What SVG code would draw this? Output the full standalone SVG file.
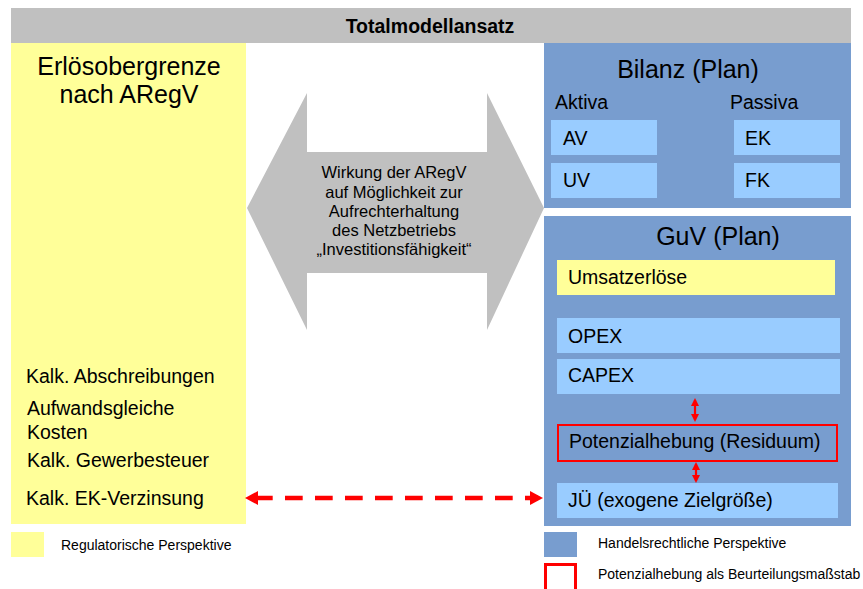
<svg xmlns="http://www.w3.org/2000/svg" width="863" height="589" viewBox="0 0 863 589">
<defs>
<style>
text{font-family:"Liberation Sans",Arial,sans-serif;fill:#000}
.big{font-size:25px}
.item{font-size:19.5px}
.arr{font-size:16.5px}
.leg{font-size:14px}
.yel{fill:#FFFF99}
.blue{fill:#789DCF}
.lb{fill:#99CCFF}
</style>
<marker id="ah" viewBox="0 0 13 14" refX="8" refY="7" markerWidth="13" markerHeight="14" markerUnits="userSpaceOnUse" orient="auto-start-reverse">
<path d="M0,0 L13,7 L0,14 z" fill="#FF0000"/>
</marker>
<marker id="sh" viewBox="0 0 8 8" refX="6" refY="4" markerWidth="8" markerHeight="8" markerUnits="userSpaceOnUse" orient="auto-start-reverse">
<path d="M0,0 L8,4 L0,8 z" fill="#FF0000"/>
</marker>
</defs>
<rect width="863" height="589" fill="#fff"/>
<g id="header">
<rect x="11" y="8" width="840" height="35" fill="#C0C0C0"/>
<text x="430" y="33" text-anchor="middle" font-size="19.5" font-weight="bold">Totalmodellansatz</text>
</g>
<g id="erloesobergrenze">
<rect class="yel" x="11" y="43" width="235" height="481"/>
<text class="big" x="129" y="75" text-anchor="middle">Erlösobergrenze</text>
<text class="big" x="129" y="103" text-anchor="middle">nach ARegV</text>
<text class="item" x="26" y="383">Kalk. Abschreibungen</text>
<text class="item" x="27" y="415">Aufwandsgleiche</text>
<text class="item" x="27" y="439">Kosten</text>
<text class="item" x="27" y="467">Kalk. Gewerbesteuer</text>
<text class="item" x="26" y="505">Kalk. EK-Verzinsung</text>
</g>
<g id="wirkung">
<polygon points="247,208 307,93 307,152 487,152 487,93 544,208 487,330 487,273 307,273 307,330" fill="#C0C0C0"/>
<text class="arr" text-anchor="middle" x="394" y="178">Wirkung der ARegV</text>
<text class="arr" text-anchor="middle" x="394" y="198">auf Möglichkeit zur</text>
<text class="arr" text-anchor="middle" x="394" y="217">Aufrechterhaltung</text>
<text class="arr" text-anchor="middle" x="394" y="236">des Netzbetriebs</text>
<text class="arr" text-anchor="middle" x="394" y="255">„Investitionsfähigkeit“</text>
</g>
<g id="bilanz">
<rect class="blue" x="544" y="43" width="307" height="165"/>
<text class="big" x="688" y="78" text-anchor="middle">Bilanz (Plan)</text>
<text class="item" x="555" y="109">Aktiva</text>
<text class="item" x="730" y="109">Passiva</text>
<rect class="lb" x="551" y="120" width="106" height="35"/>
<text class="item" x="563" y="145">AV</text>
<rect class="lb" x="551" y="163" width="106" height="35"/>
<text class="item" x="563" y="187">UV</text>
<rect class="lb" x="734" y="120" width="106" height="35"/>
<text class="item" x="745" y="145">EK</text>
<rect class="lb" x="734" y="163" width="106" height="35"/>
<text class="item" x="745" y="187">FK</text>
</g>
<g id="guv">
<rect class="blue" x="544" y="216" width="307" height="310"/>
<text class="big" x="718" y="245" text-anchor="middle">GuV (Plan)</text>
<rect class="yel" x="557" y="260" width="278" height="35"/>
<text class="item" x="568" y="284">Umsatzerlöse</text>
<rect class="lb" x="557" y="318" width="283" height="35"/>
<text class="item" x="568" y="343">OPEX</text>
<rect class="lb" x="557" y="359" width="283" height="35"/>
<text class="item" x="568" y="382">CAPEX</text>
<rect x="558" y="425" width="279" height="36" fill="none" stroke="#FF0000" stroke-width="2"/>
<text class="item" x="569" y="448">Potenzialhebung (Residuum)</text>
<rect class="lb" x="557" y="483" width="281" height="35"/>
<text class="item" x="568" y="507">JÜ (exogene Zielgröße)</text>
</g>
<g id="connectors">
<path d="M250,498 H538" stroke="#FF0000" stroke-width="4.5" fill="none" stroke-dasharray="17.7 12.3" stroke-dashoffset="-5" marker-start="url(#ah)" marker-end="url(#ah)"/>
<path d="M695,400 V420" stroke="#FF0000" stroke-width="2.2" fill="none" marker-start="url(#sh)" marker-end="url(#sh)"/>
<path d="M696,464 V481" stroke="#FF0000" stroke-width="2.2" fill="none" marker-start="url(#sh)" marker-end="url(#sh)"/>
</g>
<g id="legend">
<rect class="yel" x="11" y="532" width="33" height="25"/>
<text class="leg" x="61" y="550">Regulatorische Perspektive</text>
<rect class="blue" x="544" y="532" width="33" height="25"/>
<text class="leg" x="598" y="548">Handelsrechtliche Perspektive</text>
<rect x="545.5" y="564.5" width="30" height="30" fill="none" stroke="#FF0000" stroke-width="3"/>
<text class="leg" x="598" y="579">Potenzialhebung als Beurteilungsmaßstab</text>
</g>
</svg>
